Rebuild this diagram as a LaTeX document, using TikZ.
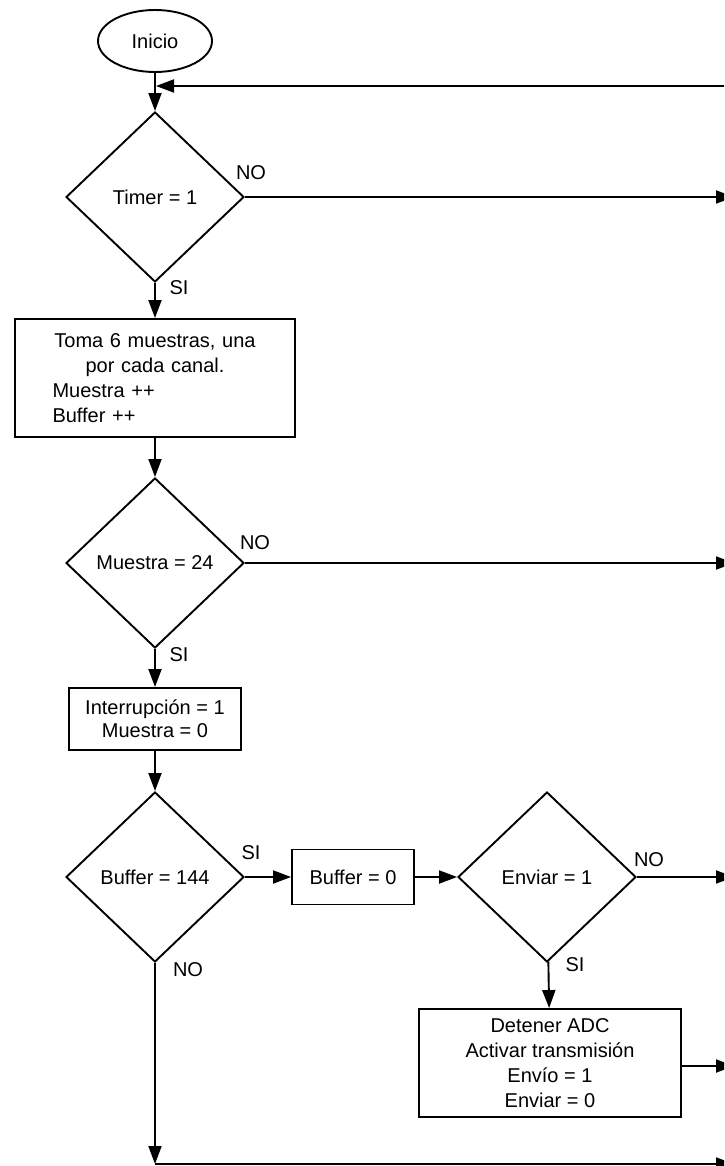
\documentclass[tikz,border=0pt]{standalone}
\usepackage{fontspec}
\setmainfont{Liberation Sans}
\usetikzlibrary{shapes.geometric,arrows.meta}

\begin{document}
\begin{tikzpicture}[x=1pt,y=-1pt,
  line width=1.9pt,
  font=\fontsize{20}{25}\selectfont,
  every node/.style={inner sep=0pt},
  decision/.style={draw,diamond,minimum width=178pt,minimum height=170pt,inner sep=0pt},
  process/.style={draw,rectangle,align=center,inner sep=0pt},
  terminal/.style={draw,ellipse,minimum width=114pt,minimum height=62pt},
  flow/.style={-{Triangle[length=18pt,width=13pt]}}
]
\clip (0,0) rectangle (724,1166);

% exit column on the right edge
\coordinate (rx) at (734,0);

% main column
\node[terminal] (ini) at (155,41) {Inicio};
\node[decision] (d1) at (155,197) {Timer = 1};
\node[process, minimum width=280pt, minimum height=118pt, text width=205pt, align=left] (p1) at (155,378)
  {\makebox[205pt][c]{Toma 6 muestras, una}\\
   \makebox[205pt][c]{por cada canal.}\\
   Muestra ++\\
   Buffer ++};
\node[decision] (d2) at (155,563) {Muestra = 24};
\node[process, minimum width=172pt, minimum height=62pt, font=\fontsize{20}{23}\selectfont] (p2) at (155,719)
  {Interrupción = 1\\Muestra = 0};
\node[decision] (d3) at (155,877) {Buffer = 144};
\node[process, minimum width=122pt, minimum height=55pt] (p3) at (353,877) {Buffer = 0};
\node[decision] (d4) at (547,877) {Enviar = 1};
\node[process, minimum width=262pt, minimum height=108pt] (p4) at (550,1063)
  {Detener ADC\\Activar transmisión\\Envío = 1\\Enviar = 0};

% branch labels
\node (no1) at (251,173) {NO};
\node (si1) at (179,288) {SI};
\node (no2) at (255,543) {NO};
\node (si2) at (179,655) {SI};
\node (si3) at (251,853) {SI};
\node (no3) at (188,970) {NO};
\node (no4) at (649,860) {NO};
\node (si4) at (575,965) {SI};

% connectors
\draw[flow] (ini) -- (d1);
\draw[flow] (d1) -- (p1);
\draw[flow] (p1) -- (d2);
\draw[flow] (d2) -- (p2);
\draw[flow] (p2) -- (d3);
\draw[flow] (d3.east) -- (p3.west);
\draw[flow] (p3.east) -- (d4.west);
\draw[flow] (d4) -- (p4);

% exits to the right
\draw[flow] (d1.east) -- (d1.east -| rx);
\draw[flow] (d2.east) -- (d2.east -| rx);
\draw[flow] (d4.east) -- (d4.east -| rx);
\draw[flow] ([yshift=-3pt]p4.east) -- ([yshift=-3pt]p4.east -| rx);

% return into the loop
\coordinate (loopin) at (730,86);
\draw[flow, shorten >=1pt] (loopin) -- (loopin -| ini);

% NO branch of Buffer = 144
\coordinate (bot) at (155,1164);
\draw[flow] (d3.south) -- (bot);
\draw[flow] (bot) -- (bot -| rx);
\end{tikzpicture}
\end{document}
